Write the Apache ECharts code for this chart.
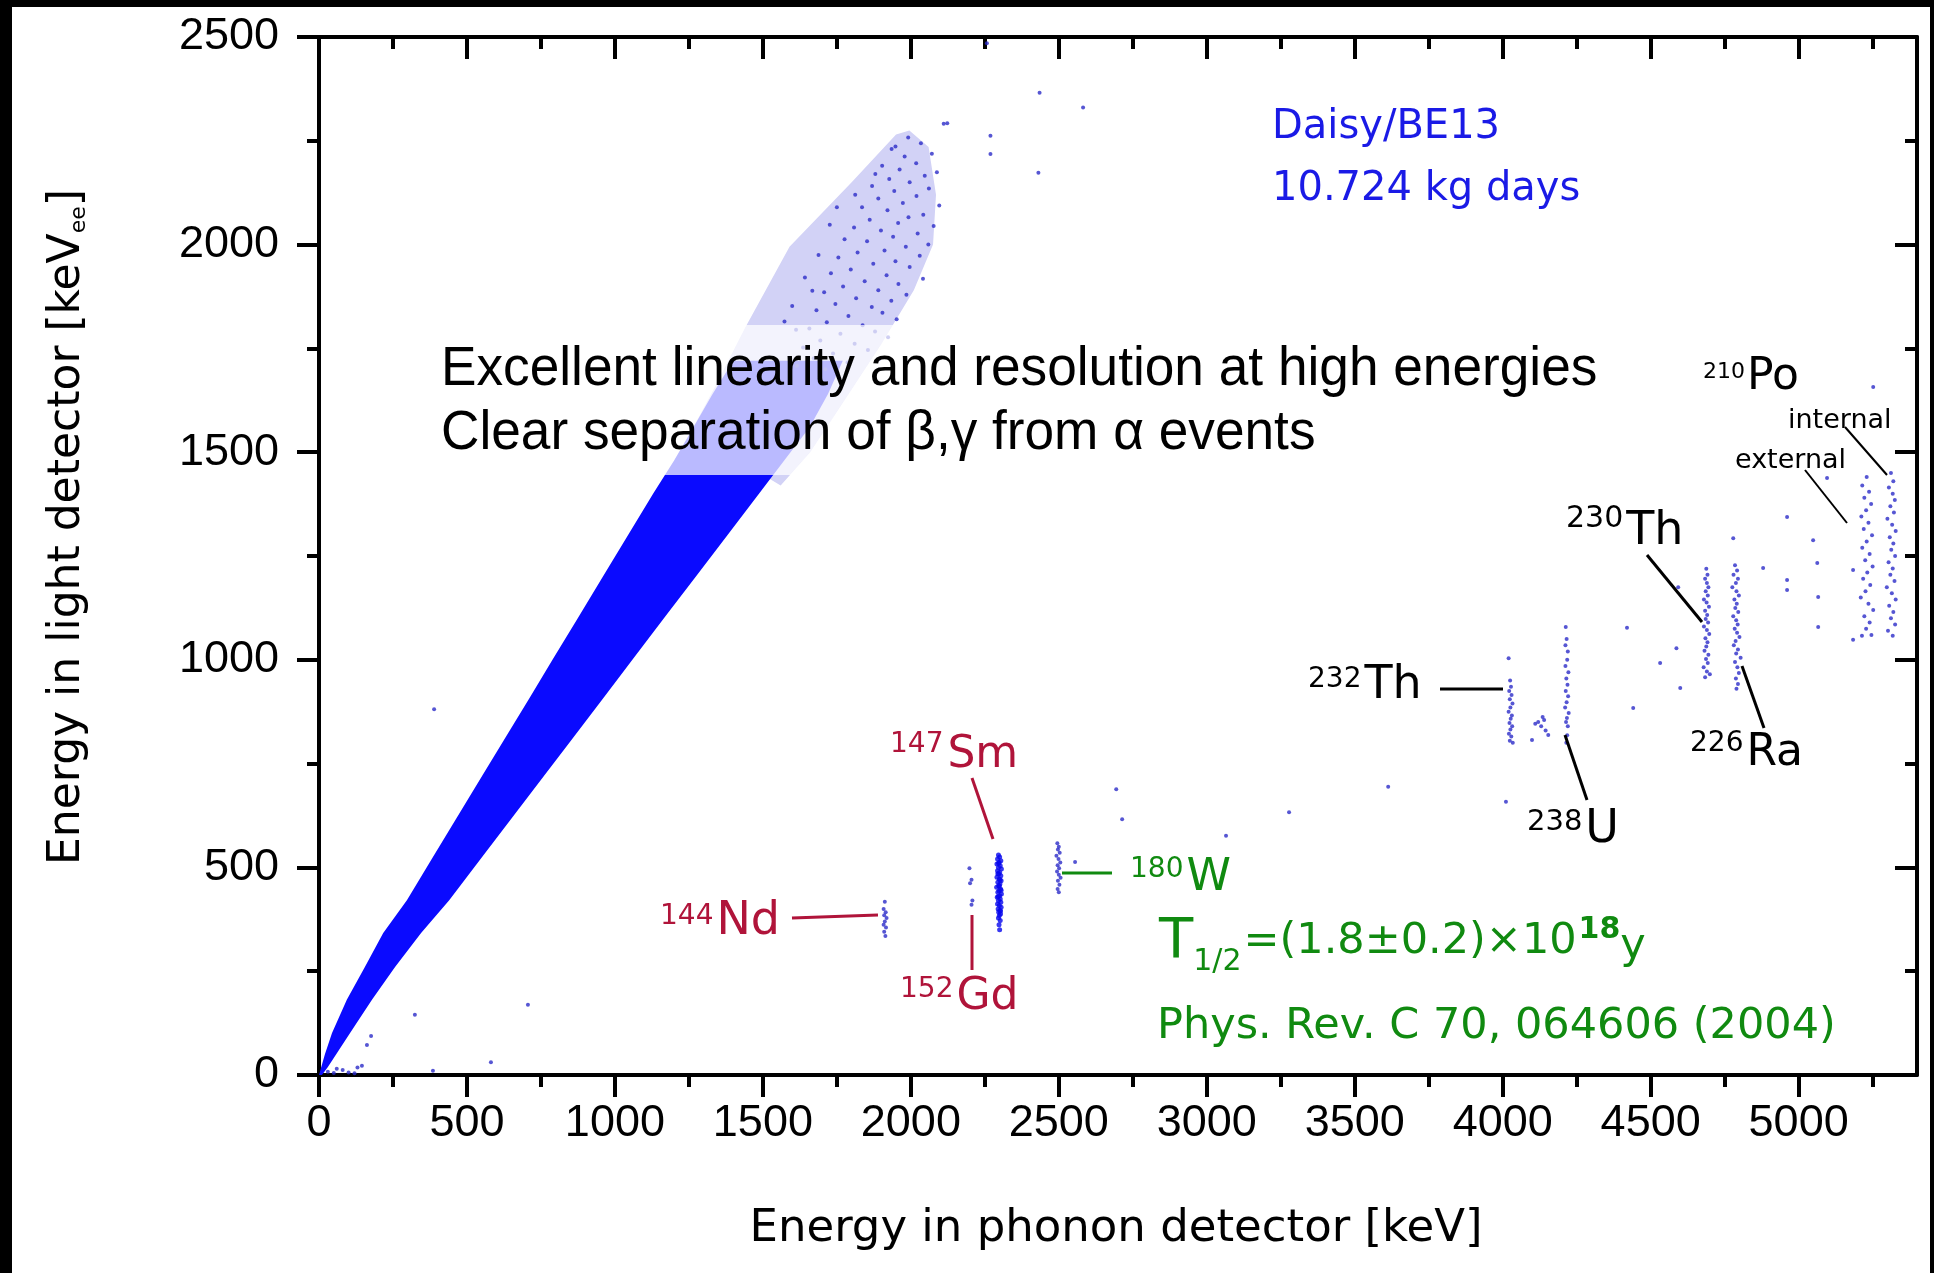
<!DOCTYPE html>
<html><head><meta charset="utf-8">
<script src="https://cdn.jsdelivr.net/npm/echarts@6/dist/echarts.min.js"></script>
<style>
html,body{margin:0;padding:0;background:#000;width:1934px;height:1273px;overflow:hidden}
#paper{position:absolute;left:12px;top:7px;width:1918px;height:1266px;background:#fff}
#c{position:absolute;left:0;top:0;width:1934px;height:1273px}
</style></head><body>
<div id="paper"></div><div id="c"></div>
<script>
// ---- axis ticks ----
const xMajor = [0,500,1000,1500,2000,2500,3000,3500,4000,4500,5000];
const xMinor = [250,750,1250,1750,2250,2750,3250,3750,4250,4750,5250];
const yMajor = [0,500,1000,1500,2000,2500];
const yMinor = [250,750,1250,1750,2250];

// ---- dense beta/gamma band outline ----
const bandUpper = [[0,0],[20,50],[44,101],[94,181],[155,260],[217,342],[297,421],[381,520],[466,620],[551,720],[625,807],[713,910],[789,1000],[878,1104],[959,1200],[1044,1300],[1130,1401],[1200,1480],[1257,1550],[1330,1640],[1400,1720]];
const bandLower = [[1770,1720],[1720,1640],[1658,1560],[1572,1480],[1488,1401],[1380,1300],[1273,1200],[1170,1104],[1059,1000],[963,910],[853,807],[760,720],[653,620],[546,520],[440,421],[345,342],[257,260],[179,181],[105,101],[30,19],[10,0]];
// ---- sparser upper part of the band (light speckle) ----
const sparseUpper = [[1257,1550],[1340,1660],[1440,1800],[1590,1995],[1800,2150],[1950,2265],[1995,2275]];
const sparseLower = [[2060,2235],[2085,2120],[2075,2000],[2010,1890],[1900,1760],[1790,1640],[1660,1500],[1560,1420]];

// ---- sparse high energy beta/gamma events ----
const upperSparse = [[2123,2292],[2257,2485],[2269,2262],[2269,2218],[2435,2366],[2431,2173],[2582,2330],[2111,2291],
[1991,2258],[2034,2244],[1948,2236],[2071,2219],[1979,2212],[2018,2196],[1903,2190],[1962,2181],[2088,2174],[2047,2166],[1927,2158],[1996,2150],[1869,2141],[2061,2135],[1944,2129],[2019,2117],[1890,2111],[1973,2100],[2096,2094],[1835,2090],[1921,2083],[2042,2072],[1992,2066],[1861,2060],[1957,2052],[2077,2045],[1808,2041],[1899,2034],[2023,2027],[1940,2019],[1776,2013],[1852,2008],[2059,2000],[1983,1995],[1911,1986],[1820,1981],[2030,1973],[1755,1969],[1948,1960],[1873,1954],[1996,1946],[1797,1940],[1730,1931],[1918,1926],[2041,1918],[1844,1912],[1958,1905],[1771,1899],[1890,1890],[1707,1885],[1985,1879],[1815,1871],[1934,1865],[1745,1857],[1868,1850],[1681,1842],[1904,1836],[1789,1828],[1952,1820],[1716,1813],[1837,1806],[1657,1798],[1879,1791],[1762,1785],[1923,1777],[1694,1769],[1810,1761],[1636,1752],[1855,1746],[1737,1738],[1672,1726],[1893,1724],[1786,1716],[1615,1708],[1711,1700],[1599,1852],[1642,1921],[1688,1975],[1573,1815],[1726,2048],[1667,1889],[1612,1795],[1750,2090],[1812,2120],[1880,2170],[1935,2230]];
const outliers = [[389,881],[706,169],[324,145],[176,94],[162,72],[581,31],[385,10],[30,8],[50,5],[80,12],[100,6],[130,18],[145,22],[120,4],[60,15],
[2694,688],[2714,616],[3065,576],[3278,633],[3613,694],[4011,658],[4420,1077],[4441,884],[5049,1288],[5063,1233],[5066,1151],[5066,1079],[4961,1344],[4961,1192],[4961,1168],[5096,1438],[5252,1657],[4880,1221],[4779,1293],[4593,1175],[4532,992],[4587,1028],[4600,932],[5184,1048],[5184,1216]];

// ---- alpha lines ----
const nd144 = [[1912,417],[1908,400],[1915,392],[1910,385],[1918,378],[1912,370],[1908,362],[1916,355],[1910,345],[1914,335]];
const gd152 = [[2198,498],[2205,470],[2200,462],[2208,420],[2205,410]];
const sm147 = [[2296,530],[2300,525],[2293,520],[2304,516],[2298,512],[2291,508],[2302,504],[2296,500],[2306,496],[2293,492],[2300,488],[2297,484],[2304,480],[2291,476],[2299,472],[2305,468],[2294,464],[2301,460],[2297,456],[2290,452],[2303,448],[2298,444],[2294,440],[2306,436],[2300,432],[2292,428],[2302,424],[2296,420],[2304,416],[2293,412],[2299,408],[2305,404],[2295,400],[2301,396],[2297,392],[2303,388],[2299,384],[2296,378],[2302,372],[2298,362],[2300,350],[2297,510],[2301,470],[2295,430],[2303,395],[2299,455],[2294,485],[2305,445]];
const w180 = [[2495,558],[2500,550],[2497,543],[2503,535],[2492,528],[2499,520],[2505,512],[2496,505],[2501,498],[2494,490],[2500,482],[2506,475],[2497,468],[2502,458],[2496,448],[2500,440],[2555,513]];
const th232 = [[4020,1004],[4025,950],[4028,935],[4022,925],[4030,915],[4024,905],[4033,895],[4026,885],[4020,875],[4031,866],[4027,858],[4023,848],[4032,840],[4026,832],[4021,822],[4029,815],[4024,805],[4034,800]];
const u238 = [[4213,1079],[4216,1050],[4212,1035],[4220,1020],[4218,1000],[4212,985],[4222,970],[4215,955],[4219,940],[4213,925],[4221,912],[4216,898],[4211,885],[4223,872],[4217,860],[4214,850],[4220,840],[4218,818],[4215,800],[4120,850],[4135,862],[4140,855],[4130,840],[4145,830],[4110,846],[4154,819],[4099,807]];
const th230 = [[4688,1219],[4692,1205],[4684,1195],[4690,1185],[4695,1175],[4686,1165],[4693,1155],[4680,1145],[4689,1138],[4697,1128],[4684,1118],[4691,1108],[4686,1098],[4694,1090],[4680,1080],[4690,1072],[4698,1062],[4685,1052],[4692,1042],[4688,1032],[4682,1022],[4695,1012],[4687,1002],[4693,992],[4679,982],[4690,972],[4700,965],[4684,958]];
const ra226 = [[4785,1228],[4792,1215],[4780,1205],[4795,1195],[4788,1185],[4776,1175],[4790,1165],[4798,1155],[4783,1145],[4791,1135],[4786,1125],[4796,1115],[4779,1105],[4789,1095],[4794,1085],[4784,1075],[4792,1065],[4800,1055],[4787,1045],[4781,1035],[4795,1025],[4789,1015],[4804,1005],[4785,995],[4793,982],[4798,968],[4788,955],[4795,942],[4790,930]];
const poExt = [[5230,1440],[5215,1420],[5238,1405],[5222,1390],[5245,1375],[5228,1360],[5212,1345],[5236,1330],[5220,1315],[5248,1300],[5230,1285],[5215,1270],[5240,1255],[5225,1240],[5250,1225],[5232,1210],[5218,1195],[5242,1180],[5226,1165],[5210,1150],[5236,1135],[5252,1120],[5222,1105],[5240,1090],[5228,1075],[5246,1060],[5214,1058]];
const poInt = [[5312,1450],[5320,1430],[5305,1415],[5318,1400],[5325,1385],[5310,1370],[5322,1355],[5300,1340],[5316,1325],[5328,1310],[5308,1295],[5320,1280],[5313,1265],[5326,1250],[5304,1235],[5318,1220],[5310,1205],[5324,1190],[5298,1175],[5315,1160],[5328,1145],[5306,1130],[5320,1115],[5312,1100],[5326,1085],[5302,1070],[5318,1058]];

// ---- text ----
const xTitle = 'Energy in phonon detector [keV]';
const yTitle = 'Energy in light detector [keV';
const infoLines = ['Daisy/BE13','10.724 kg days'];
const noteLines = ['Excellent linearity and resolution at high energies','Clear separation of \u03b2,\u03b3 from \u03b1 events'];

const L = 319, T = 37, R = 1917, B = 1075;
const XMAX = 5400, YMAX = 2500;
const chart = echarts.init(document.getElementById('c'), null, {renderer:'canvas'});
const fontMain = 'DejaVu Sans';
const tickFont = 'Liberation Sans';

function xAx(pos, vals, len, inside, label, line) {
  return {type:'value', position:pos, min:0, max:XMAX,
    axisLine:{show:line, onZero:false, lineStyle:{color:'#000', width:4}},
    axisTick:{show:true, inside:inside, length:len, customValues:vals, lineStyle:{color:'#000', width:4}},
    axisLabel:{show:label, customValues:vals, fontSize:45, fontFamily:tickFont, color:'#000', margin:26, formatter:function(v){return String(v);}},
    splitLine:{show:false}};
}
function yAx(pos, vals, len, inside, label, line) {
  return {type:'value', position:pos, min:0, max:YMAX,
    axisLine:{show:line, onZero:false, lineStyle:{color:'#000', width:4}},
    axisTick:{show:true, inside:inside, length:len, customValues:vals, lineStyle:{color:'#000', width:4}},
    axisLabel:{show:label, customValues:vals, fontSize:45, fontFamily:tickFont, color:'#000', margin:40, formatter:function(v){return String(v);}},
    splitLine:{show:false}};
}
function dots(data, color, size) {
  return {type:'scatter', xAxisIndex:0, yAxisIndex:0, data:data, symbol:'circle', symbolSize:size,
    itemStyle:{color:color}, silent:true, z:3};
}
const dotCol = '#2c2cc8';

function txt(x, y, s, size, color, extra) {
  return Object.assign({type:'text', x:x, y:y, z:20, silent:true,
    style:{text:s, font: size + 'px "' + fontMain + '"', fill:color, align:'left', verticalAlign:'middle'}}, extra||{});
}
function ln(x1,y1,x2,y2,color,w) {
  return {type:'line', z:20, silent:true, shape:{x1:x1,y1:y1,x2:x2,y2:y2}, style:{stroke:color, lineWidth:w||3}};
}
const mctx = document.createElement('canvas').getContext('2d');
function chain(x, segs, color) {
  const out = [];
  segs.forEach(function(s){
    const f = (s.bold ? 'bold ' : '') + s.size + 'px "' + fontMain + '"';
    out.push({type:'text', x:x, y:s.y, z:20, silent:true, style:{text:s.t, font:f, fill:color, align:'left', verticalAlign:'middle'}});
    mctx.font = f;
    x += mctx.measureText(s.t).width + (s.gap || 0);
  });
  return out;
}
const red = '#b0143a', green = '#108a10', blk = '#000', blue = '#1a1ae6';

let graphics = [
  {type:'rect', z:15, silent:true, shape:{x:425, y:325, width:1190, height:150}, style:{fill:'rgba(255,255,255,0.72)'}},
  {type:'text', x:441, y:370, z:20, silent:true, scaleX:0.95, style:{text:noteLines[0], font:'56px "Liberation Sans"', fill:'#000', verticalAlign:'middle'}},
  {type:'text', x:441, y:434, z:20, silent:true, scaleX:0.95, style:{text:noteLines[1], font:'56px "Liberation Sans"', fill:'#000', verticalAlign:'middle'}},
  txt(1272, 128, infoLines[0], 40, blue),
  txt(1272, 190, infoLines[1], 40, blue),
  {type:'text', x:1116, y:1229, z:20, silent:true, style:{text:xTitle, font:'45px "' + fontMain + '"', fill:'#000', align:'center', verticalAlign:'middle'}},
  {type:'text', x:68, y:527, z:20, rotation:Math.PI/2, silent:true, style:{
     text: yTitle + '{s|ee}]', font:'44px "' + fontMain + '"', fill:'#000', align:'center', verticalAlign:'middle',
     rich:{s:{font:'22px "' + fontMain + '"', fill:'#000', verticalAlign:'bottom', padding:[22,0,0,0]}}}},
  ln(792, 918, 878, 915, red), ln(972, 778, 993, 839, red), ln(972, 915, 972, 970, red),
  ln(1062, 873, 1112, 873, green),
  ln(1440, 689, 1503, 689, blk), ln(1565, 735, 1587, 800, blk), ln(1647, 555, 1702, 622, blk), ln(1742, 666, 1764, 728, blk),
  ln(1845, 427, 1887, 475, blk, 2), ln(1805, 470, 1847, 523, blk, 2),
  txt(1788, 421, 'internal', 27, blk), txt(1735, 461, 'external', 27, blk)
];
graphics = graphics.concat(
  chain(660, [{t:'144', size:28, y:917, gap:3}, {t:'Nd', size:46, y:922}], red),
  chain(890, [{t:'147', size:28, y:745, gap:4}, {t:'Sm', size:44, y:756}], red),
  chain(900, [{t:'152', size:28, y:990, gap:3}, {t:'Gd', size:44, y:998}], red),
  chain(1130, [{t:'180', size:28, y:870, gap:3}, {t:'W', size:45, y:878}], green),
  chain(1159, [{t:'T', size:56, y:942}, {t:'1/2', size:30, y:962, gap:2}, {t:'=(1.8\u00b10.2)\u00d710', size:43, y:942, gap:2}, {t:'18', size:30, y:930, bold:true}, {t:'y', size:43, y:947}], green),
  chain(1157, [{t:'Phys. Rev. C 70, 064606 (2004)', size:43, y:1027}], green),
  chain(1308, [{t:'232', size:28, y:680, gap:3}, {t:'Th', size:46, y:686}], blk),
  chain(1527, [{t:'238', size:29, y:822, gap:3}, {t:'U', size:46, y:830}], blk),
  chain(1566, [{t:'230', size:30, y:519, gap:3}, {t:'Th', size:46, y:532}], blk),
  chain(1690, [{t:'226', size:28, y:744, gap:3}, {t:'Ra', size:44, y:754}], blk),
  chain(1703, [{t:'210', size:22, y:372, gap:2}, {t:'Po', size:44, y:378}], blk)
);

const bandOutline = bandUpper.concat(bandLower);
const sparseOutline = sparseUpper.concat(sparseLower);
function polySeries(outline, fill, z) {
  return {type:'custom', coordinateSystem:'cartesian2d', xAxisIndex:0, yAxisIndex:0, data:[0], silent:true, z:z,
    renderItem:function(params, api){
      return {type:'polygon', shape:{points: outline.map(function(p){return api.coord(p);})}, style:{fill:fill}};
    }};
}

chart.setOption({
  animation:false,
  backgroundColor:'transparent',
  grid:{left:L, top:T, right:1934-R, bottom:1273-B, containLabel:false},
  xAxis:[xAx('bottom', xMajor, 22, false, true, true), xAx('bottom', xMinor, 12, false, false, false),
         xAx('top', xMajor, 22, true, false, true), xAx('top', xMinor, 12, true, false, false)],
  yAxis:[yAx('left', yMajor, 22, false, true, true), yAx('left', yMinor, 12, false, false, false),
         yAx('right', yMajor, 22, true, false, true), yAx('right', yMinor, 12, true, false, false)],
  series:[
    polySeries(sparseOutline, '#d2d2f6', 1),
    polySeries(bandOutline, '#0a0aff', 2),
    dots(upperSparse, dotCol, 4),
    dots(outliers, dotCol, 4),
    dots(nd144, dotCol, 4), dots(gd152, dotCol, 4), dots(sm147, '#0808ee', 5), dots(w180, dotCol, 4),
    dots(th232, dotCol, 4), dots(u238, dotCol, 4), dots(th230, dotCol, 4), dots(ra226, dotCol, 4),
    dots(poExt, dotCol, 4), dots(poInt, dotCol, 4)
  ],
  graphic: graphics
});
</script></body></html>
